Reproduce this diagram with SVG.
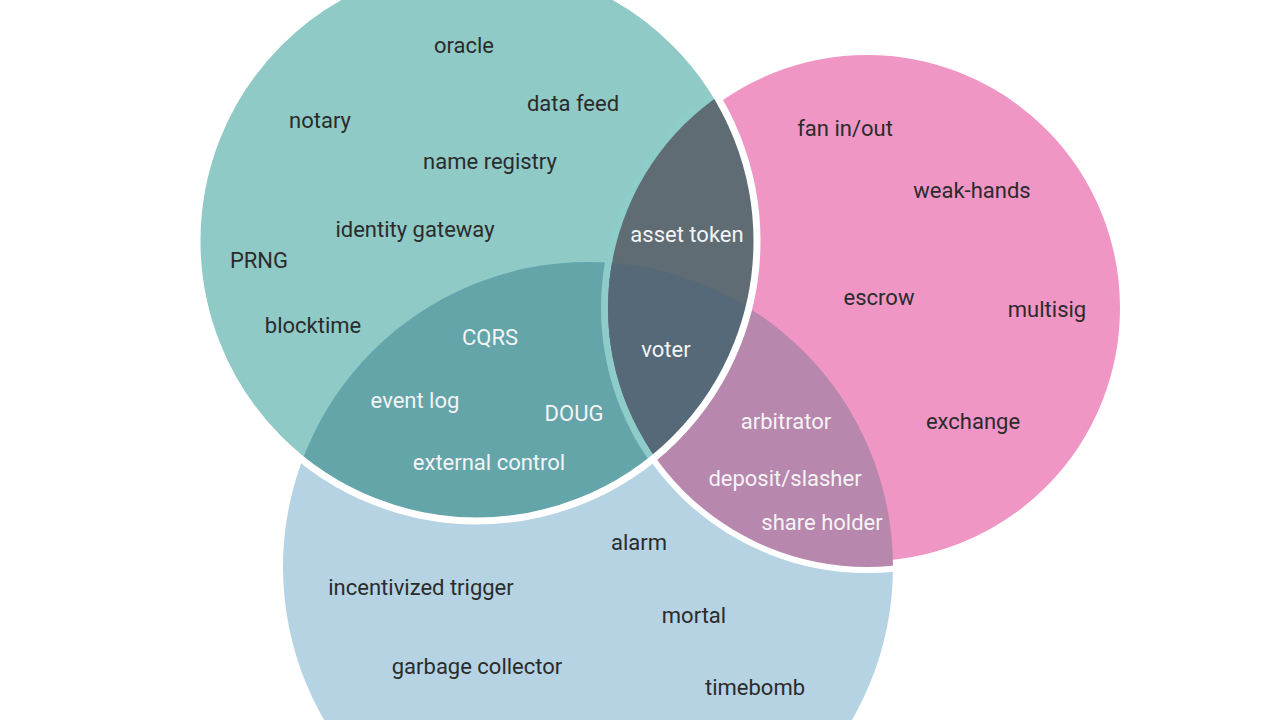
<svg xmlns="http://www.w3.org/2000/svg" width="1280" height="720" viewBox="0 0 1280 720">
  <defs>
    <clipPath id="clipTeal"><circle cx="477" cy="241" r="280"/></clipPath>
    <clipPath id="clipPink"><circle cx="867" cy="308" r="259"/></clipPath>
    <clipPath id="clipBlue"><circle cx="588" cy="567" r="305"/></clipPath>
    <style>
      .lbl { font-family: Roboto, "Liberation Sans", sans-serif; font-size: 22px; text-anchor: middle; }
      .dark { fill: #2b2b2b; }
      .light { fill: #f4f4f4; }
    </style>
  </defs>
  <rect x="0" y="0" width="1280" height="720" fill="#ffffff"/>

  <g id="circle-blue">
    <circle cx="588" cy="567" r="305" fill="#b5d3e3"/>
  </g>
  <g id="circle-pink">
    <circle cx="867" cy="308" r="259" fill="#f096c5" stroke="#ffffff" stroke-width="12"/>
  </g>
  <g id="region-pink-blue">
    <circle cx="588" cy="567" r="305" fill="#b887ae" clip-path="url(#clipPink)"/>
  </g>
  <g id="circle-teal">
    <circle cx="477" cy="241" r="280" fill="#8fcac7"/>
  </g>
  <g id="region-teal-blue">
    <circle cx="588" cy="567" r="305" fill="#64a5aa" clip-path="url(#clipTeal)"/>
    <circle cx="867" cy="308" r="266" fill="#8dccc8" clip-path="url(#clipTeal)"/>
  </g>
  <g id="region-teal-pink">
    <circle cx="867" cy="308" r="259" fill="#5f6c73" clip-path="url(#clipTeal)"/>
    <g clip-path="url(#clipTeal)">
      <g clip-path="url(#clipPink)">
        <circle cx="588" cy="567" r="305" fill="#566978"/>
      </g>
    </g>
  </g>
  <g id="teal-outline">
    <circle cx="477" cy="241" r="280" fill="none" stroke="#ffffff" stroke-width="7"/>
  </g>

  <g id="labels-teal">
    <text class="lbl dark" x="464" y="53">oracle</text>
    <text class="lbl dark" x="573" y="111">data feed</text>
    <text class="lbl dark" x="320" y="128">notary</text>
    <text class="lbl dark" x="490" y="169">name registry</text>
    <text class="lbl dark" x="415" y="237">identity gateway</text>
    <text class="lbl dark" x="259" y="268">PRNG</text>
    <text class="lbl dark" x="313" y="333">blocktime</text>
  </g>
  <g id="labels-teal-blue">
    <text class="lbl light" x="490" y="345">CQRS</text>
    <text class="lbl light" x="415" y="408">event log</text>
    <text class="lbl light" x="574" y="421">DOUG</text>
    <text class="lbl light" x="489" y="470">external control</text>
  </g>
  <g id="labels-teal-pink">
    <text class="lbl light" x="687" y="242">asset token</text>
    <text class="lbl light" x="666" y="357">voter</text>
  </g>
  <g id="labels-pink">
    <text class="lbl dark" x="845" y="136">fan in/out</text>
    <text class="lbl dark" x="972" y="198">weak-hands</text>
    <text class="lbl dark" x="879" y="305">escrow</text>
    <text class="lbl dark" x="1047" y="317">multisig</text>
    <text class="lbl dark" x="973" y="429">exchange</text>
  </g>
  <g id="labels-pink-blue">
    <text class="lbl light" x="786" y="429">arbitrator</text>
    <text class="lbl light" x="785" y="486">deposit/slasher</text>
    <text class="lbl light" x="822" y="530">share holder</text>
  </g>
  <g id="labels-blue">
    <text class="lbl dark" x="639" y="550">alarm</text>
    <text class="lbl dark" x="421" y="595">incentivized trigger</text>
    <text class="lbl dark" x="694" y="623">mortal</text>
    <text class="lbl dark" x="477" y="674">garbage collector</text>
    <text class="lbl dark" x="755" y="695">timebomb</text>
  </g>
</svg>
